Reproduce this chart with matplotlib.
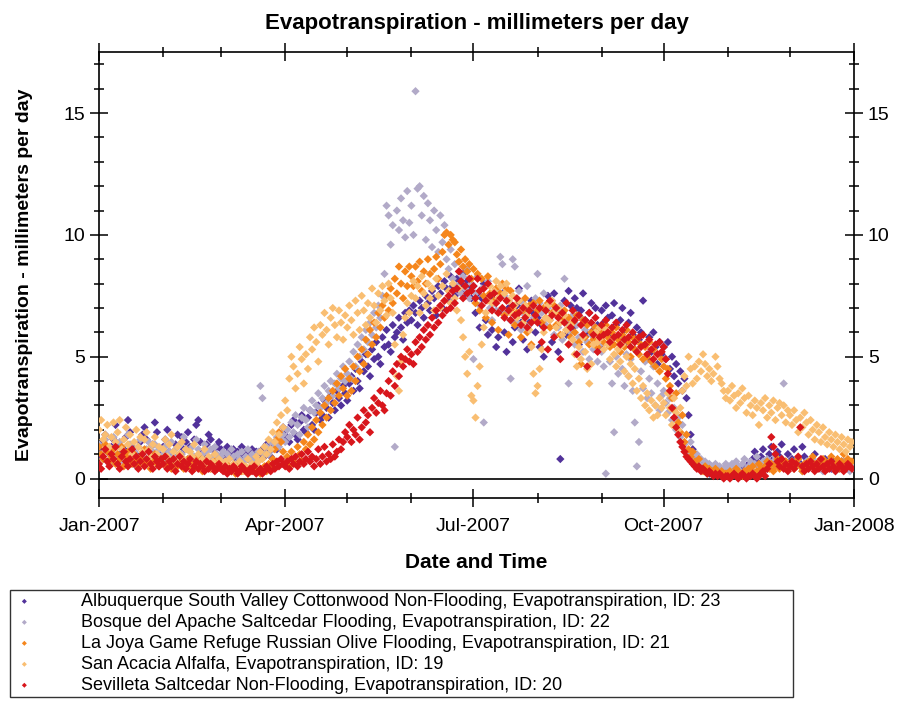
"""Evapotranspiration at five Middle Rio Grande sites, daily values for 2007"""

import pandas as pd
import matplotlib
matplotlib.use('Agg')
import matplotlib.pyplot as plt
import matplotlib.dates as mdates
from matplotlib.ticker import MultipleLocator

plt.rcParams['font.family'] = ['Liberation Sans', 'DejaVu Sans']

YEAR = 2007

# Daily ET (mm/day), one inner list per month, Jan..Dec
albuquerque = [
    [1.2, 0.9, 1.5, 1.8, 1.1, 0.7, 1.3, 1.6, 2.2, 1.4, 1.0, 0.8, 1.2, 1.7, 2.4, 1.9, 1.3, 1.1, 0.6, 0.9, 1.5, 1.8, 2.1, 1.6, 1.2, 0.8, 1.4, 2.3, 1.9, 1.0, 0.7],
    [1.3, 1.6, 2.0, 1.1, 0.5, 0.9, 1.4, 1.8, 2.5, 1.7, 1.2, 1.5, 1.9, 1.3, 0.8, 1.6, 2.2, 2.4, 1.5, 1.1, 0.9, 1.4, 1.8, 1.6, 1.2, 0.9, 1.3, 1.5],
    [1.2, 1.0, 0.9, 1.3, 1.1, 1.0, 1.2, 0.8, 1.1, 1.0, 1.3, 0.9, 1.1, 0.8, 1.0, 1.2, 0.9, 1.1, 1.0, 0.8, 1.2, 0.9, 1.4, 1.1, 0.9, 1.3, 1.5, 1.2, 1.6, 1.8, 2.1],
    [2.0, 1.7, 1.5, 2.2, 2.4, 1.8, 1.6, 2.3, 2.6, 2.0, 1.9, 2.5, 2.8, 2.2, 2.0, 2.7, 3.0, 2.4, 2.6, 3.2, 2.9, 2.5, 3.4, 3.1, 2.8, 3.6, 3.3, 3.0, 3.8, 3.5],
    [3.2, 3.9, 4.2, 3.6, 4.5, 4.0, 3.7, 4.8, 4.4, 5.1, 4.6, 4.2, 5.3, 4.9, 5.6, 5.0, 4.7, 5.8, 5.4, 6.1, 5.5, 5.2, 6.3, 5.8, 6.0, 6.6, 6.2, 5.7, 6.8, 6.4, 6.9],
    [6.5, 7.1, 6.8, 6.3, 7.3, 7.0, 6.6, 7.5, 7.2, 6.9, 7.7, 7.4, 6.7, 7.9, 7.6, 7.0, 8.1, 7.8, 7.3, 8.3, 7.9, 7.5, 8.2, 7.7, 8.0, 8.4, 7.6, 8.1, 7.8, 7.4],
    [7.9, 6.8, 7.6, 6.2, 7.4, 8.0, 6.5, 5.9, 7.4, 6.1, 7.3, 5.4, 5.8, 6.9, 7.6, 6.0, 5.2, 7.0, 6.5, 5.6, 6.2, 7.1, 7.8, 6.4, 5.7, 6.9, 5.3, 6.4, 7.3, 6.8, 6.0],
    [6.6, 5.4, 6.3, 5.0, 6.9, 7.5, 7.2, 5.6, 7.6, 6.9, 5.2, 0.8, 6.8, 7.3, 5.9, 7.7, 7.1, 6.2, 7.4, 7.0, 5.5, 6.9, 7.6, 6.5, 5.9, 6.8, 7.2, 6.1, 7.0, 6.3, 5.4],
    [6.9, 6.4, 7.1, 6.6, 5.9, 6.7, 7.2, 6.3, 5.8, 6.5, 7.0, 6.1, 5.6, 6.4, 6.8, 5.9, 5.3, 6.2, 5.7, 6.0, 7.3, 5.5, 4.9, 5.8, 5.2, 6.0, 5.4, 4.7, 5.6, 5.1],
    [5.4, 4.9, 5.6, 4.5, 5.0, 4.2, 4.7, 3.9, 4.4, 3.6, 4.1, 3.3, 2.6, 1.8, 1.2, 0.9, 0.6, 0.5, 0.4, 0.6, 0.3, 0.4, 0.2, 0.3, 0.5, 0.3, 0.2, 0.4, 0.3, 0.2, 0.3],
    [0.2, 0.3, 0.1, 0.2, 0.4, 0.3, 0.2, 0.5, 0.3, 0.4, 0.6, 0.5, 0.8, 1.1, 0.7, 0.5, 0.9, 1.2, 0.6, 0.4, 1.0, 1.3, 0.8, 0.6, 1.1, 0.9, 1.4, 0.7, 0.5, 1.0],
    [0.6, 0.8, 1.2, 0.5, 0.7, 0.6, 1.3, 0.9, 0.5, 0.6, 0.7, 0.5, 1.0, 0.6, 0.5, 0.7, 0.6, 0.8, 0.5, 0.6, 0.4, 0.7, 0.6, 0.5, 0.6, 0.7, 0.5, 0.6, 0.4, 0.5, 0.6],
]

bosque = [
    [1.4, 1.0, 0.8, 1.6, 1.2, 0.6, 1.1, 1.7, 1.3, 0.9, 1.5, 1.2, 0.7, 1.0, 1.8, 1.4, 0.9, 1.1, 0.5, 1.3, 1.6, 1.0, 0.8, 1.2, 1.5, 0.7, 1.1, 1.4, 0.9, 1.2, 0.8],
    [1.0, 1.3, 0.7, 1.1, 1.5, 0.9, 1.2, 0.6, 1.4, 1.0, 1.7, 1.2, 0.8, 1.1, 1.3, 0.9, 1.6, 1.2, 0.7, 1.0, 1.4, 1.1, 0.8, 1.2, 0.9, 1.3, 1.0, 0.8],
    [0.9, 1.1, 0.7, 1.0, 0.8, 1.2, 0.9, 0.6, 1.0, 0.8, 1.1, 0.7, 0.9, 1.2, 0.8, 1.0, 0.7, 0.9, 1.1, 3.8, 3.3, 1.0, 1.3, 1.0, 1.5, 1.2, 1.4, 1.7, 1.3, 1.6, 1.8],
    [1.5, 2.0, 1.7, 2.3, 1.9, 2.6, 2.2, 1.8, 2.5, 2.9, 2.4, 2.1, 2.8, 3.2, 2.7, 3.0, 3.5, 2.9, 3.3, 3.8, 3.1, 3.6, 4.0, 3.4, 3.9, 4.3, 3.7, 4.1, 4.6, 4.0],
    [4.3, 4.8, 4.1, 5.2, 4.6, 5.5, 5.0, 5.8, 5.3, 6.1, 5.6, 6.4, 5.9, 6.8, 6.2, 7.1, 6.6, 7.5, 8.4, 11.2, 10.8, 9.6, 10.4, 1.3, 11.0, 10.2, 11.5, 10.6, 9.9, 11.8, 10.5],
    [11.2, 10.0, 15.9, 11.9, 12.0, 10.8, 11.6, 9.8, 11.3, 10.6, 9.5, 11.0, 10.2, 9.3, 10.8, 9.7, 10.4, 9.0, 8.6, 9.4, 8.2, 8.8, 7.9, 8.5, 7.6, 8.3, 7.8, 8.6, 7.4, 8.0],
    [4.9, 7.6, 8.3, 7.1, 7.8, 2.3, 7.4, 8.1, 7.0, 6.5, 7.2, 6.9, 7.7, 9.1, 8.8, 7.5, 6.8, 7.3, 4.1, 9.0, 8.7, 6.4, 7.7, 6.1, 7.2, 6.7, 7.9, 6.3, 7.0, 6.6, 7.4],
    [8.4, 7.2, 6.8, 7.6, 6.3, 7.0, 6.5, 7.3, 5.9, 6.8, 6.2, 7.1, 5.7, 8.2, 6.4, 3.9, 6.0, 6.7, 5.5, 6.3, 5.8, 6.6, 5.2, 6.1, 5.6, 4.9, 5.9, 5.3, 6.2, 4.8, 5.5],
    [5.2, 4.6, 0.2, 5.5, 4.8, 3.9, 1.9, 5.0, 4.3, 5.7, 4.5, 3.8, 5.1, 4.2, 4.9, 3.6, 2.3, 0.5, 1.5, 4.4, 3.7, 4.8, 3.3, 4.1, 3.5, 4.6, 3.0, 3.9, 2.8, 3.4],
    [3.6, 3.1, 2.7, 3.3, 2.4, 2.9, 2.0, 2.5, 1.7, 2.2, 1.4, 1.8, 1.1, 1.5, 0.9, 0.7, 1.0, 0.6, 0.8, 0.5, 0.7, 0.4, 0.6, 0.5, 0.3, 0.6, 0.4, 0.5, 0.3, 0.4, 0.6],
    [0.5, 0.3, 0.6, 0.4, 0.7, 0.5, 0.3, 0.6, 0.8, 0.4, 0.5, 0.7, 0.3, 0.6, 0.9, 0.5, 0.4, 0.7, 0.6, 0.8, 0.5, 0.4, 0.7, 0.9, 0.6, 0.5, 0.8, 3.9, 0.7, 0.6],
    [0.5, 0.7, 0.4, 0.6, 0.8, 0.5, 0.3, 0.6, 0.7, 0.4, 0.5, 0.8, 0.6, 0.4, 0.7, 0.5, 0.3, 0.6, 0.4, 0.7, 0.5, 0.6, 0.3, 0.5, 0.4, 0.6, 0.7, 0.4, 0.5, 0.3, 0.6],
]

la_joya = [
    [1.3, 1.0, 0.8, 1.4, 1.1, 0.7, 0.9, 1.2, 0.6, 1.0, 0.8, 1.3, 0.5, 0.9, 1.1, 0.7, 0.6, 1.0, 0.8, 0.5, 0.9, 0.7, 1.2, 0.6, 0.8, 0.4, 0.7, 1.0, 0.6, 0.5, 0.8],
    [0.6, 0.9, 0.5, 0.7, 0.4, 0.8, 0.6, 0.5, 1.0, 0.7, 0.4, 0.6, 0.8, 0.5, 0.7, 0.4, 0.6, 0.9, 0.5, 0.3, 0.7, 0.5, 0.6, 0.4, 0.5, 0.7, 0.4, 0.6],
    [0.4, 0.5, 0.3, 0.6, 0.4, 0.3, 0.5, 0.2, 0.4, 0.6, 0.3, 0.5, 0.4, 0.2, 0.3, 0.5, 0.4, 0.6, 0.3, 0.2, 0.4, 0.5, 0.3, 0.6, 0.4, 0.8, 1.2, 1.6, 1.9, 1.5, 1.1],
    [0.6, 0.9, 0.5, 1.1, 0.8, 0.6, 1.3, 1.0, 0.7, 1.5, 1.2, 1.8, 1.4, 2.1, 1.6, 2.4, 1.9, 2.7, 2.2, 3.0, 2.5, 3.3, 2.8, 3.6, 3.1, 3.9, 3.4, 4.2, 3.7, 4.5],
    [3.4, 4.1, 3.6, 4.6, 4.0, 5.0, 4.4, 5.3, 4.7, 5.7, 5.1, 6.1, 5.5, 6.4, 5.8, 6.8, 6.2, 7.1, 6.6, 7.5, 6.9, 7.8, 7.2, 8.2, 7.6, 8.7, 8.0, 7.4, 8.5, 7.9, 8.7],
    [8.3, 7.9, 8.7, 8.1, 8.9, 7.7, 8.5, 8.0, 9.0, 8.4, 7.8, 8.6, 9.1, 8.2, 8.8, 9.3, 10.0, 10.1, 9.6, 10.0, 9.8, 9.7, 9.2, 8.9, 9.4, 8.7, 9.0, 8.5, 8.8, 8.2],
    [8.6, 7.2, 8.4, 6.9, 8.2, 7.5, 6.6, 8.3, 7.6, 6.4, 7.3, 7.8, 6.1, 7.6, 8.0, 6.7, 7.8, 5.9, 7.7, 7.0, 6.3, 6.8, 7.3, 5.8, 6.9, 7.4, 6.0, 7.1, 5.5, 7.2, 6.5],
    [6.9, 7.3, 6.4, 7.0, 6.6, 7.2, 6.2, 6.8, 7.1, 6.3, 6.7, 5.9, 6.5, 6.9, 6.1, 6.6, 5.8, 6.4, 6.0, 6.7, 5.6, 4.7, 6.5, 5.8, 6.3, 5.5, 6.0, 5.7, 6.2, 5.4, 5.9],
    [6.1, 5.6, 6.3, 5.8, 5.4, 6.0, 5.5, 6.2, 5.7, 5.2, 5.9, 5.4, 6.1, 5.6, 5.0, 5.8, 5.3, 5.7, 5.1, 5.5, 4.9, 5.4, 5.0, 5.6, 4.8, 5.3, 4.6, 5.1, 4.4, 4.9],
    [4.6, 4.1, 4.5, 3.8, 3.3, 2.8, 3.5, 2.3, 1.9, 2.6, 1.5, 1.8, 1.2, 0.9, 1.1, 0.7, 0.5, 0.8, 0.4, 0.3, 0.5, 0.2, 0.4, 0.3, 0.2, 0.4, 0.3, 0.2, 0.3, 0.1, 0.2],
    [0.2, 0.3, 0.1, 0.2, 0.4, 0.3, 0.2, 0.1, 0.3, 0.2, 0.4, 0.3, 0.5, 0.2, 0.3, 0.6, 0.4, 0.3, 0.5, 0.7, 0.4, 0.6, 0.3, 0.5, 0.8, 0.4, 0.6, 0.5, 0.7, 0.4],
    [0.5, 0.7, 0.4, 0.6, 0.8, 0.5, 0.3, 0.6, 0.4, 0.7, 0.5, 0.9, 0.6, 0.4, 0.7, 0.5, 0.8, 0.6, 0.4, 0.7, 0.9, 0.5, 0.6, 0.8, 0.4, 0.7, 1.0, 0.6, 0.8, 0.5, 0.7],
]

san_acacia = [
    [2.0, 2.4, 1.6, 1.8, 2.2, 1.3, 1.7, 2.3, 1.5, 1.9, 2.4, 1.2, 1.6, 2.1, 1.4, 1.8, 1.0, 1.5, 2.0, 1.3, 1.7, 1.1, 1.6, 1.9, 1.2, 0.9, 1.4, 1.7, 1.0, 1.3, 0.8],
    [1.2, 1.6, 0.9, 1.4, 1.8, 1.1, 0.7, 1.3, 1.0, 1.5, 0.8, 1.2, 0.6, 1.1, 0.9, 1.4, 0.7, 1.0, 0.5, 0.8, 1.2, 0.6, 0.9, 0.4, 0.7, 1.0, 0.5, 0.8],
    [0.6, 0.4, 0.7, 0.5, 0.8, 0.3, 0.6, 0.5, 0.4, 0.7, 0.6, 0.3, 0.5, 0.8, 0.4, 0.6, 0.5, 0.9, 0.7, 1.1, 0.8, 1.3, 1.0, 1.6, 1.2, 1.9, 1.5, 2.3, 1.8, 2.6, 2.1],
    [3.2, 2.8, 4.1, 5.0, 4.6, 3.7, 4.3, 5.4, 4.9, 3.9, 5.1, 4.5, 5.8, 5.3, 6.2, 5.6, 4.8, 6.3, 5.9, 6.8, 6.1, 5.5, 6.6, 7.0, 6.3, 5.8, 6.9, 6.4, 5.7, 6.7],
    [6.2, 7.1, 6.5, 5.9, 7.3, 6.8, 6.1, 7.5, 6.9, 6.3, 7.2, 6.6, 7.8, 7.1, 6.4, 7.6, 6.9, 7.9, 7.3, 6.7, 8.0, 7.4, 6.8, 5.5, 4.2, 3.6, 4.8, 5.9, 6.6, 7.2, 6.8],
    [7.5, 8.1, 7.4, 7.9, 6.8, 8.3, 7.6, 7.1, 8.0, 7.4, 7.8, 6.9, 8.2, 7.5, 7.0, 7.9, 7.3, 8.4, 7.7, 7.2, 8.0, 7.4, 6.9, 7.8, 6.5, 5.8, 5.0, 4.3, 5.2, 3.4],
    [3.2, 2.5, 3.8, 4.6, 5.5, 6.2, 6.8, 7.3, 7.9, 7.2, 7.7, 8.1, 7.4, 7.9, 7.0, 7.6, 8.0, 7.3, 6.8, 7.5, 7.1, 6.6, 7.3, 6.9, 6.4, 7.1, 6.7, 6.1, 5.4, 4.3, 3.5],
    [3.8, 4.5, 5.3, 6.0, 6.6, 7.1, 6.5, 7.3, 6.8, 6.2, 7.0, 6.4, 5.9, 6.7, 6.1, 5.5, 6.3, 5.7, 5.1, 4.6, 5.4, 4.9, 5.8, 5.2, 4.5, 3.9, 4.7, 5.5, 6.0, 5.6, 6.2],
    [5.8, 5.3, 6.1, 5.5, 4.9, 5.7, 5.1, 4.6, 5.3, 4.8, 5.5, 4.4, 5.0, 4.2, 4.7, 3.9, 4.5, 3.6, 4.1, 3.3, 3.8, 3.0, 3.5, 2.8, 3.2, 2.5, 3.0, 2.6, 3.3, 2.9],
    [3.1, 2.6, 3.5, 2.9, 2.2, 3.3, 2.7, 2.0, 2.9, 3.6, 4.2, 3.8, 5.0, 4.5, 3.9, 4.6, 4.1, 4.8, 4.4, 5.1, 4.7, 4.2, 4.5, 4.0, 4.3, 5.0, 4.6, 4.1, 3.9, 3.6, 3.3],
    [3.6, 3.2, 3.8, 3.4, 2.9, 3.5, 3.1, 3.7, 3.3, 2.7, 3.4, 3.0, 2.6, 3.2, 2.9, 2.2, 3.1, 2.8, 3.3, 2.5, 3.0, 2.7, 3.2, 2.4, 2.9, 3.1, 2.6, 3.0, 2.3, 2.8],
    [2.6, 2.2, 2.8, 2.4, 1.9, 2.5, 2.1, 2.7, 2.3, 1.8, 2.4, 2.0, 1.6, 2.2, 1.9, 1.5, 2.1, 1.7, 1.4, 1.9, 1.6, 1.3, 1.8, 1.5, 1.2, 1.7, 1.4, 1.1, 1.6, 1.3, 1.5],
]

sevilleta = [
    [0.6, 0.4, 0.9, 1.2, 0.7, 0.5, 1.0, 0.8, 1.3, 0.6, 0.4, 0.9, 1.1, 0.7, 0.5, 0.8, 1.2, 0.6, 0.9, 0.4, 0.7, 1.0, 0.5, 0.8, 1.1, 0.6, 0.4, 0.9, 0.7, 0.5, 0.8],
    [0.6, 0.9, 0.4, 0.7, 0.5, 0.8, 0.3, 0.6, 0.9, 0.5, 0.7, 0.4, 0.6, 0.8, 0.3, 0.5, 0.7, 0.4, 0.6, 0.5, 0.3, 0.7, 0.4, 0.6, 0.5, 0.3, 0.4, 0.6],
    [0.4, 0.3, 0.5, 0.2, 0.4, 0.3, 0.5, 0.4, 0.2, 0.3, 0.5, 0.4, 0.3, 0.2, 0.4, 0.3, 0.5, 0.2, 0.3, 0.4, 0.2, 0.3, 0.5, 0.4, 0.3, 0.6, 0.4, 0.7, 0.5, 0.8, 0.6],
    [0.5, 0.7, 0.4, 0.8, 0.6, 0.9, 0.5, 0.7, 1.0, 0.6, 0.8, 1.1, 0.7, 0.9, 0.5, 0.8, 1.2, 0.6, 0.9, 1.3, 0.7, 1.0, 0.8, 1.4, 0.9, 1.1, 1.6, 1.2, 1.5, 1.9],
    [1.7, 2.2, 1.5, 2.0, 1.8, 2.5, 1.6, 2.1, 2.8, 2.3, 2.6, 1.9, 2.9, 3.3, 2.7, 3.1, 3.6, 3.0, 2.8, 3.5, 4.0, 3.4, 4.4, 3.8, 4.7, 4.2, 5.0, 4.6, 4.9, 5.3, 4.8],
    [5.1, 4.7, 5.6, 5.2, 5.8, 5.4, 6.1, 5.7, 6.3, 5.9, 6.6, 6.2, 6.9, 6.4, 7.1, 6.7, 7.3, 6.9, 7.5, 7.0, 7.7, 7.2, 7.8, 8.5, 8.1, 7.4, 7.9, 7.6, 8.2, 7.7],
    [7.9, 7.4, 8.2, 7.7, 7.1, 7.8, 7.3, 8.0, 7.5, 6.9, 7.6, 7.2, 6.8, 7.4, 7.0, 6.6, 7.3, 6.9, 6.5, 7.1, 6.7, 7.4, 6.8, 6.3, 7.0, 6.6, 6.2, 6.9, 6.4, 7.1, 6.7],
    [6.4, 7.0, 5.6, 6.2, 6.9, 5.3, 7.3, 6.7, 5.8, 7.0, 6.6, 4.9, 6.8, 6.4, 7.2, 5.5, 6.2, 6.9, 6.5, 5.1, 6.7, 6.3, 5.9, 6.5, 4.6, 6.8, 6.4, 5.9, 6.6, 5.2, 5.8],
    [6.3, 5.9, 6.5, 6.0, 5.6, 6.2, 5.8, 6.4, 5.9, 5.5, 6.1, 5.7, 6.3, 5.8, 5.4, 6.0, 5.6, 5.2, 5.8, 5.4, 5.9, 5.5, 5.1, 5.7, 5.3, 4.9, 5.5, 5.1, 5.6, 5.2],
    [5.4, 4.9, 4.3, 3.6, 2.9, 2.5, 2.1, 1.8, 1.5, 1.3, 1.1, 0.9, 0.8, 0.7, 0.6, 0.5, 0.4, 0.5, 0.3, 0.4, 0.3, 0.2, 0.3, 0.2, 0.1, 0.2, 0.1, 0.2, 0.1, 0.0, 0.1],
    [0.1, 0.0, 0.1, 0.2, 0.1, 0.0, 0.1, 0.2, 0.1, 0.0, 0.1, 0.1, 0.2, 0.1, 0.0, 0.1, 0.2, 0.3, 0.1, 0.4, 0.6, 1.7, 1.3, 1.0, 0.7, 0.5, 0.8, 0.4, 0.6, 0.3],
    [0.5, 0.7, 0.4, 0.6, 0.9, 2.1, 0.5, 0.3, 0.6, 0.4, 0.7, 0.5, 0.3, 0.6, 0.4, 0.8, 0.5, 0.3, 0.6, 0.4, 0.7, 0.5, 0.3, 0.4, 0.6, 0.5, 0.3, 0.4, 0.6, 0.5, 0.4],
]

labels = [
    'Albuquerque South Valley Cottonwood Non-Flooding, Evapotranspiration, ID: 23',
    'Bosque del Apache Saltcedar Flooding, Evapotranspiration, ID: 22',
    'La Joya Game Refuge Russian Olive Flooding, Evapotranspiration, ID: 21',
    'San Acacia Alfalfa, Evapotranspiration, ID: 19',
    'Sevilleta Saltcedar Non-Flooding, Evapotranspiration, ID: 20',
]
colors = ['#52329A', '#B2AAC8', '#F5861C', '#F9BE72', '#D8161C']


def to_series(months):
    """Turn per-month lists into (dates, values)."""
    dates, values = [], []
    for m, month in enumerate(months, start=1):
        start = pd.Timestamp(YEAR, m, 1)
        for d, v in enumerate(month):
            dates.append(start + pd.Timedelta(days=d))
            values.append(v)
    return dates, values


fig = plt.figure(figsize=(9.01, 7.02), dpi=100)
ax = fig.add_axes([0.1099, 0.2906, 0.838, 0.635])

for months, color, label in zip([albuquerque, bosque, la_joya, san_acacia, sevilleta],
                                colors, labels):
    x, y = to_series(months)
    ax.scatter(x, y, s=18, marker='D', color=color, edgecolors='none',
               label=label, zorder=3)

ax.axhline(0, color='black', linewidth=1.2, zorder=2)

ax.set_xlim(pd.Timestamp(YEAR, 1, 1), pd.Timestamp(YEAR + 1, 1, 1))
ax.set_ylim(-0.8, 17.5)

ax.xaxis.set_major_locator(mdates.MonthLocator(bymonth=[1, 4, 7, 10]))
ax.xaxis.set_minor_locator(mdates.MonthLocator())
ax.xaxis.set_major_formatter(mdates.DateFormatter('%b-%Y'))
ax.yaxis.set_major_locator(MultipleLocator(5))
ax.yaxis.set_minor_locator(MultipleLocator(1))

ax.tick_params(which='both', direction='inout', top=True, right=True,
               labelright=True, labelsize=14, width=1.1)
ax.tick_params(which='major', length=13)
ax.tick_params(which='minor', length=7)
ax.tick_params(axis='x', which='major', pad=8)
for spine in ax.spines.values():
    spine.set_linewidth(1.2)

ax.set_title('Evapotranspiration - millimeters per day', fontsize=16,
             fontweight='bold', pad=17)
ax.set_xlabel('Date and Time', fontsize=15, fontweight='bold', labelpad=13)
ax.set_ylabel('Evapotranspiration - millimeters per day', fontsize=14,
              fontweight='bold', labelpad=22)

leg = ax.legend(loc='upper left', bbox_to_anchor=(0.011, 0.0, 0.869, 0.159),
                bbox_transform=fig.transFigure, mode='expand', fontsize=13,
                frameon=True, fancybox=False, edgecolor='black',
                handletextpad=2.5, borderaxespad=0, labelspacing=0.22,
                scatterpoints=1, markerscale=0.6, borderpad=0.15,
                handlelength=1.3)
leg.get_frame().set_linewidth(1.0)

fig.savefig('out.png', dpi=100)
